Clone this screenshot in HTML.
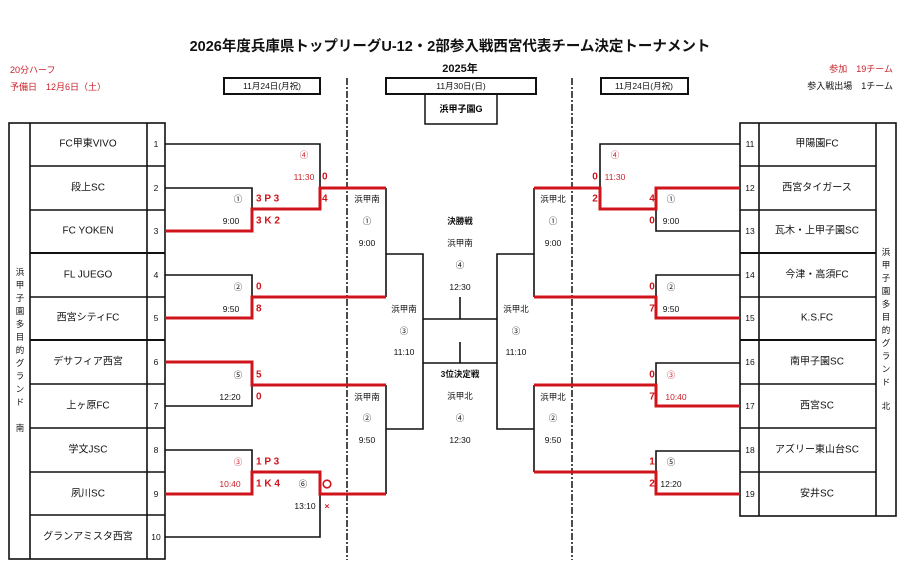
<!DOCTYPE html>
<html><head><meta charset="utf-8"><style>
html,body{margin:0;padding:0;background:#fff;}
svg{display:block;font-family:"Liberation Sans","Noto Sans CJK JP",sans-serif;}
.t{font-size:10px;text-anchor:middle;dominant-baseline:central;fill:#111;}
.n{font-size:8.5px;text-anchor:middle;dominant-baseline:central;fill:#111;}
.s{font-size:8.5px;text-anchor:middle;dominant-baseline:central;fill:#111;}
.r{fill:#c8222a;}
.rb{font-size:10px;font-weight:bold;fill:#d0141c;dominant-baseline:central;}
.k{stroke:#111;stroke-width:1.6;fill:none;}
.red{stroke:#d0141c;stroke-width:3;fill:none;}
</style></head><body>
<svg width="900" height="584" viewBox="0 0 900 584">
<rect width="900" height="584" fill="#fff"/>
<text x="450" y="47" font-size="14.5" font-weight="bold" text-anchor="middle" dominant-baseline="central" fill="#111">2026年度兵庫県トップリーグU-12・2部参入戦西宮代表チーム決定トーナメント</text>
<text x="10" y="70" font-size="9" fill="#c8222a" dominant-baseline="central">20分ハーフ</text>
<text x="10" y="87" font-size="9" fill="#c8222a" dominant-baseline="central">予備日　12月6日（土）</text>
<text x="460" y="69" font-size="11" font-weight="bold" text-anchor="middle" dominant-baseline="central" fill="#111">2025年</text>
<text x="893" y="69" font-size="9" fill="#c8222a" text-anchor="end" dominant-baseline="central">参加　19チーム</text>
<text x="893" y="86" font-size="9" fill="#111" text-anchor="end" dominant-baseline="central">参入戦出場　1チーム</text>
<rect x="224" y="78" width="96" height="16" fill="none" stroke="#111" stroke-width="2"/>
<text x="272" y="86" class="s">11月24日(月祝)</text>
<rect x="386" y="78" width="150" height="16" fill="none" stroke="#111" stroke-width="2"/>
<text x="461" y="86" class="s">11月30日(日)</text>
<rect x="425" y="94" width="72" height="30" fill="none" stroke="#111" stroke-width="1.5"/>
<text x="461" y="109" font-size="9" font-weight="bold" text-anchor="middle" dominant-baseline="central">浜甲子園G</text>
<rect x="601" y="78" width="87" height="16" fill="none" stroke="#111" stroke-width="2"/>
<text x="644" y="86" class="s">11月24日(月祝)</text>
<!-- dashed -->
<line x1="347" y1="78" x2="347" y2="560" stroke="#111" stroke-width="1.5" stroke-dasharray="7,2,2,2"/>
<line x1="572" y1="78" x2="572" y2="560" stroke="#111" stroke-width="1.5" stroke-dasharray="7,2,2,2"/>
<!-- left table -->
<g stroke="#111" stroke-width="1.6" fill="none">
<rect x="9" y="123" width="156" height="436"/>
<line x1="30" y1="123" x2="30" y2="559"/><line x1="147" y1="123" x2="147" y2="559"/>
<line x1="30" y1="166" x2="165" y2="166"/><line x1="30" y1="210" x2="165" y2="210"/>
<line x1="30" y1="253" x2="165" y2="253" stroke-width="2"/><line x1="30" y1="297" x2="165" y2="297"/>
<line x1="30" y1="340" x2="165" y2="340" stroke-width="2"/><line x1="30" y1="384" x2="165" y2="384"/>
<line x1="30" y1="428" x2="165" y2="428"/><line x1="30" y1="472" x2="165" y2="472"/>
<line x1="30" y1="515" x2="165" y2="515"/>
</g>
<g class="t">
<text x="88" y="144" class="t">FC甲東VIVO</text><text x="88" y="188" class="t">段上SC</text>
<text x="88" y="231" class="t">FC YOKEN</text><text x="88" y="275" class="t">FL JUEGO</text>
<text x="88" y="318" class="t">西宮シティFC</text><text x="88" y="362" class="t">デサフィア西宮</text>
<text x="88" y="406" class="t">上ヶ原FC</text><text x="88" y="450" class="t">学文JSC</text>
<text x="88" y="494" class="t">夙川SC</text><text x="88" y="537" class="t">グランアミスタ西宮</text>
</g>
<text x="156" y="144" class="n">1</text><text x="156" y="188" class="n">2</text><text x="156" y="231" class="n">3</text>
<text x="156" y="275" class="n">4</text><text x="156" y="318" class="n">5</text><text x="156" y="362" class="n">6</text>
<text x="156" y="406" class="n">7</text><text x="156" y="450" class="n">8</text><text x="156" y="494" class="n">9</text>
<text x="156" y="537" class="n">10</text>
<g class="n">
<text x="20" y="272" class="n">浜</text><text x="20" y="285" class="n">甲</text><text x="20" y="298" class="n">子</text>
<text x="20" y="311" class="n">園</text><text x="20" y="324" class="n">多</text><text x="20" y="337" class="n">目</text>
<text x="20" y="350" class="n">的</text><text x="20" y="363" class="n">グ</text><text x="20" y="376" class="n">ラ</text>
<text x="20" y="389" class="n">ン</text><text x="20" y="402" class="n">ド</text><text x="20" y="428" class="n">南</text>
</g>
<!-- right table -->
<g stroke="#111" stroke-width="1.6" fill="none">
<rect x="740" y="123" width="156" height="393"/>
<line x1="759" y1="123" x2="759" y2="516"/><line x1="876" y1="123" x2="876" y2="516"/>
<line x1="740" y1="166" x2="876" y2="166"/><line x1="740" y1="210" x2="876" y2="210"/>
<line x1="740" y1="253" x2="876" y2="253" stroke-width="2"/><line x1="740" y1="297" x2="876" y2="297"/>
<line x1="740" y1="340" x2="876" y2="340" stroke-width="2"/><line x1="740" y1="384" x2="876" y2="384"/>
<line x1="740" y1="428" x2="876" y2="428"/><line x1="740" y1="472" x2="876" y2="472"/>
</g>
<text x="817" y="144" class="t">甲陽園FC</text><text x="817" y="188" class="t">西宮タイガース</text>
<text x="817" y="231" class="t">瓦木・上甲子園SC</text><text x="817" y="275" class="t">今津・高須FC</text>
<text x="817" y="318" class="t">K.S.FC</text><text x="817" y="362" class="t">南甲子園SC</text>
<text x="817" y="406" class="t">西宮SC</text><text x="817" y="450" class="t">アズリー東山台SC</text>
<text x="817" y="494" class="t">安井SC</text>
<text x="750" y="144" class="n">11</text><text x="750" y="188" class="n">12</text><text x="750" y="231" class="n">13</text>
<text x="750" y="275" class="n">14</text><text x="750" y="318" class="n">15</text><text x="750" y="362" class="n">16</text>
<text x="750" y="406" class="n">17</text><text x="750" y="450" class="n">18</text><text x="750" y="494" class="n">19</text>
<text x="886" y="252" class="n">浜</text><text x="886" y="265" class="n">甲</text><text x="886" y="278" class="n">子</text>
<text x="886" y="291" class="n">園</text><text x="886" y="304" class="n">多</text><text x="886" y="317" class="n">目</text>
<text x="886" y="330" class="n">的</text><text x="886" y="343" class="n">グ</text><text x="886" y="356" class="n">ラ</text>
<text x="886" y="369" class="n">ン</text><text x="886" y="382" class="n">ド</text><text x="886" y="406" class="n">北</text>
<!-- left bracket black -->
<g class="k">
<polyline points="165,144 320,144 320,188"/>
<polyline points="165,188 252,188 252,209"/>
<polyline points="386,188 386,297"/>
<polyline points="165,275 252,275 252,297"/>
<polyline points="386,254 423,254 423,429 386,429"/>
<polyline points="165,406 252,406 252,385"/>
<polyline points="386,385 386,494"/>
<polyline points="165,450 252,450 252,472"/>
<polyline points="165,537 320,537 320,494"/>
<!-- center -->
<line x1="423" y1="319" x2="497" y2="319"/><line x1="423" y1="363" x2="497" y2="363"/>
<line x1="460" y1="297" x2="460" y2="319"/><line x1="460" y1="342" x2="460" y2="363"/>
<!-- right black -->
<polyline points="740,144 600,144 600,188"/>
<polyline points="740,231 656,231 656,209"/>
<polyline points="534,188 534,297"/>
<polyline points="740,275 656,275 656,297"/>
<polyline points="534,254 497,254 497,429 534,429"/>
<polyline points="740,363 656,363 656,385"/>
<polyline points="534,385 534,472"/>
<polyline points="740,451 656,451 656,472"/>
</g>
<!-- red -->
<g class="red">
<polyline points="165,231 252,231 252,209 320,209 320,188 386,188"/>
<polyline points="165,318 252,318 252,297 386,297"/>
<polyline points="165,362 252,362 252,385 386,385"/>
<polyline points="165,494 252,494 252,472 320,472 320,494 386,494"/>
<polyline points="740,188 656,188 656,209 600,209 600,188 534,188"/>
<polyline points="740,318 656,318 656,297 534,297"/>
<polyline points="740,406 656,406 656,385 534,385"/>
<polyline points="740,494 656,494 656,472 534,472"/>
</g>
<!-- left labels -->
<text x="304" y="155" class="s r">④</text><text x="304" y="177" class="s r">11:30</text>
<text x="322" y="177" class="rb">0</text><text x="322" y="199" class="rb">4</text>
<text x="238" y="199" class="s">①</text><text x="256" y="199" class="rb">3 P 3</text>
<text x="231" y="221" class="s">9:00</text><text x="256" y="221" class="rb">3 K 2</text>
<text x="367" y="199" class="s">浜甲南</text><text x="367" y="221" class="s">①</text><text x="367" y="243" class="s">9:00</text>
<text x="238" y="287" class="s">②</text><text x="256" y="287" class="rb">0</text>
<text x="231" y="309" class="s">9:50</text><text x="256" y="309" class="rb">8</text>
<text x="404" y="309" class="s">浜甲南</text><text x="404" y="331" class="s">③</text><text x="404" y="352" class="s">11:10</text>
<text x="238" y="375" class="s">⑤</text><text x="256" y="375" class="rb">5</text>
<text x="230" y="397" class="s">12:20</text><text x="256" y="397" class="rb">0</text>
<text x="367" y="397" class="s">浜甲南</text><text x="367" y="418" class="s">②</text><text x="367" y="440" class="s">9:50</text>
<text x="238" y="462" class="s r">③</text><text x="256" y="462" class="rb">1 P 3</text>
<text x="230" y="484" class="s r">10:40</text><text x="256" y="484" class="rb">1 K 4</text>
<text x="303" y="484" class="s">⑥</text><text x="305" y="506" class="s">13:10</text>
<circle cx="327" cy="484" r="3.8" fill="none" stroke="#d0141c" stroke-width="1.6"/>
<text x="327" y="506" class="s" fill="#d0141c" style="fill:#d0141c;font-weight:bold">×</text>
<!-- center labels -->
<text x="460" y="221" class="s" font-weight="bold">決勝戦</text>
<text x="460" y="243" class="s">浜甲南</text><text x="460" y="265" class="s">④</text><text x="460" y="287" class="s">12:30</text>
<text x="460" y="374" class="s" font-weight="bold">3位決定戦</text>
<text x="460" y="396" class="s">浜甲北</text><text x="460" y="418" class="s">④</text><text x="460" y="440" class="s">12:30</text>
<!-- right labels -->
<text x="615" y="155" class="s r">④</text><text x="615" y="177" class="s r">11:30</text>
<text x="595" y="177" class="rb" text-anchor="middle">0</text><text x="595" y="199" class="rb" text-anchor="middle">2</text>
<text x="652" y="199" class="rb" text-anchor="middle">4</text><text x="671" y="199" class="s">①</text>
<text x="652" y="221" class="rb" text-anchor="middle">0</text><text x="671" y="221" class="s">9:00</text>
<text x="553" y="199" class="s">浜甲北</text><text x="553" y="221" class="s">①</text><text x="553" y="243" class="s">9:00</text>
<text x="652" y="287" class="rb" text-anchor="middle">0</text><text x="671" y="287" class="s">②</text>
<text x="652" y="309" class="rb" text-anchor="middle">7</text><text x="671" y="309" class="s">9:50</text>
<text x="516" y="309" class="s">浜甲北</text><text x="516" y="331" class="s">③</text><text x="516" y="352" class="s">11:10</text>
<text x="652" y="375" class="rb" text-anchor="middle">0</text><text x="671" y="375" class="s r">③</text>
<text x="652" y="397" class="rb" text-anchor="middle">7</text><text x="676" y="397" class="s r">10:40</text>
<text x="553" y="397" class="s">浜甲北</text><text x="553" y="418" class="s">②</text><text x="553" y="440" class="s">9:50</text>
<text x="652" y="462" class="rb" text-anchor="middle">1</text><text x="671" y="462" class="s">⑤</text>
<text x="652" y="484" class="rb" text-anchor="middle">2</text><text x="671" y="484" class="s">12:20</text>
</svg>
</body></html>
